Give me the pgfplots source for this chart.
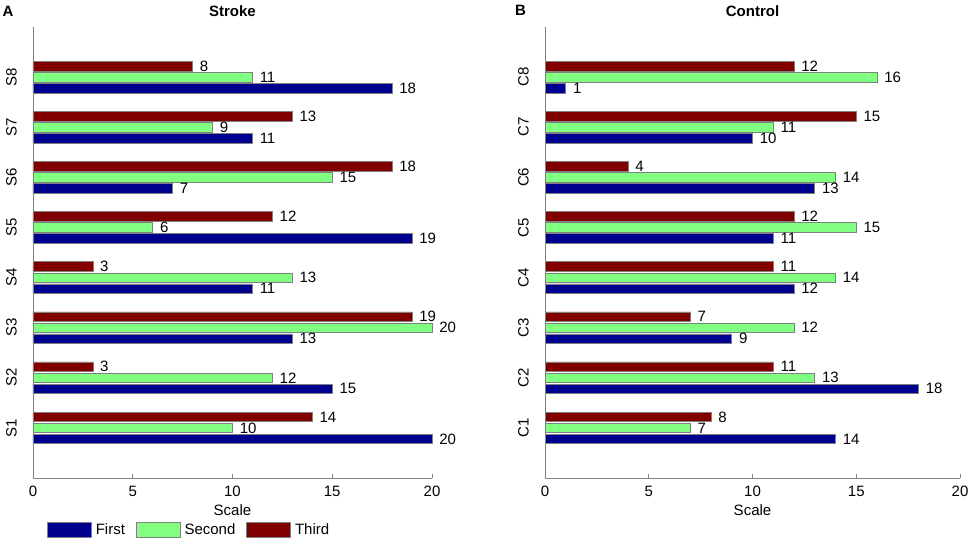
\documentclass[border=0pt]{standalone}
\usepackage{fontspec}
\setmainfont{Liberation Sans}
\usepackage{pgfplots}
\pgfplotsset{compat=1.18}
\usepackage{pgfplotstable}

\definecolor{cFirst}{rgb}{0,0,0.56}
\definecolor{cSecond}{rgb}{0.5,1,0.5}
\definecolor{cThird}{rgb}{0.5,0,0}
\definecolor{axgray}{gray}{0.5}

\pgfplotstableread{
y first second third
1 20 10 14
2 15 12 3
3 13 20 19
4 11 13 3
5 19 6 12
6 7 15 18
7 11 9 13
8 18 11 8
}\stroke

\pgfplotstableread{
y first second third
1 14 7 8
2 18 13 11
3 9 12 7
4 12 14 11
5 11 15 12
6 13 14 4
7 10 11 15
8 1 16 12
}\control

\newcommand\fs{\fontsize{15}{18}\selectfont}

\pgfplotsset{
 panel/.style={
  scale only axis, height=451pt,
  xmin=0,xmax=20,ymin=0,ymax=9,
  axis x line*=bottom, axis y line*=left,
  axis line style={draw=axgray, line width=0.8pt, -},
  xtick={0,5,10,15,20},
  ytick={1,...,8},
  xtick align=inside,
  x tick style={draw=axgray, line width=0.8pt},
  major tick length=4pt,
  y tick style={draw=none},
  tick label style={font=\fs},
  /pgf/number format/assume math mode=true,
  xticklabel style={inner sep=0pt, anchor=north, yshift=-8pt},
  yticklabel style={rotate=90, anchor=south, inner sep=0pt, yshift=12pt},
  xlabel={Scale},
  xlabel style={font=\fs, at={(axis description cs:0.5,0)}, anchor=base, yshift=-37pt, inner sep=0pt},
  every axis title shift=0pt,
  title style={font=\fs\bfseries, at={(axis description cs:0.5,1)}, anchor=base, yshift=11pt, inner sep=0pt},
  xbar, bar width=0.19,
  clip=false,
  nodes near coords,
  every node near coord/.append style={font=\fs, anchor=west, inner sep=0pt, xshift=7pt, text=black, draw=none, fill=none},
  every axis plot/.append style={draw=axgray, line width=0.6pt},
 },
}

\begin{document}
\begin{tikzpicture}
\useasboundingbox (0pt,0pt) rectangle (972pt,542pt);
\begin{axis}[panel, width=399pt, at={(33pt,64pt)}, anchor=south west,
  title={Stroke},
  yticklabels={S1,S2,S3,S4,S5,S6,S7,S8},
  legend style={draw=none, fill=none, legend columns=3, at={(0.0351,-0.0976)}, anchor=north west, inner sep=0pt, font=\fs,
    /tikz/every odd column/.append style={column sep=4pt},
    /tikz/every even column/.append style={column sep=11pt},
    nodes={inner sep=0pt}},
  legend image code/.code={\draw[#1,draw=axgray] (0pt,-7.5pt) rectangle (44pt,7.5pt);},
]
\addplot[fill=cFirst, bar shift=-0.22] table[x=first,y=y]{\stroke};
\addplot[fill=cSecond, bar shift=0] table[x=second,y=y]{\stroke};
\addplot[fill=cThird, bar shift=0.22] table[x=third,y=y]{\stroke};
\legend{First,Second,Third}
\end{axis}
\begin{axis}[panel, width=415pt, at={(545pt,64pt)}, anchor=south west,
  title={Control},
  yticklabels={C1,C2,C3,C4,C5,C6,C7,C8},
]
\addplot[fill=cFirst, bar shift=-0.22] table[x=first,y=y]{\control};
\addplot[fill=cSecond, bar shift=0] table[x=second,y=y]{\control};
\addplot[fill=cThird, bar shift=0.22] table[x=third,y=y]{\control};
\end{axis}
\node[anchor=base west, inner sep=0pt, font=\fs\bfseries] at (2.5pt,525.5pt) {A};
\node[anchor=base west, inner sep=0pt, font=\fs\bfseries] at (515pt,526pt) {B};
\end{tikzpicture}
\end{document}
